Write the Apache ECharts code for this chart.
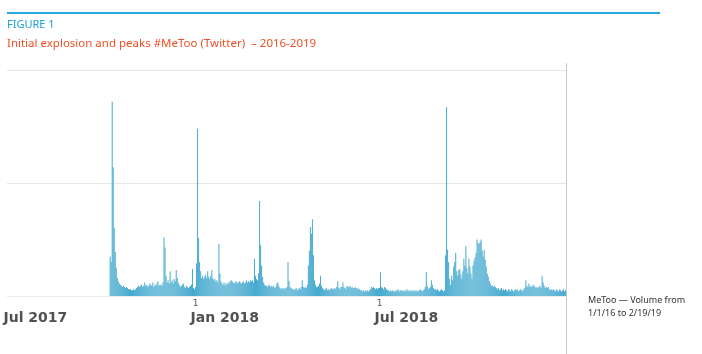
<!DOCTYPE html>
<html>
<head>
<meta charset="utf-8">
<script src="https://cdn.jsdelivr.net/npm/echarts@6/dist/echarts.min.js"></script>
<style>
html,body{margin:0;padding:0;background:#fff;}
#chart{width:702px;height:354px;}
</style>
</head>
<body>
<div id="chart"></div>
<script>
// Axis range (daily categories)
const axisStart = '2017-06-30';
const axisEnd = '2018-12-31';
// First day with data
const dataStart = '2017-10-09';
// Tick labels
const tickDates = ['2018-01-01', '2018-07-01'];
const tickDayLabels = ['1', '1'];
const monthDates = ['2017-07-01', '2018-01-01', '2018-07-01'];
const monthLabels = ['Jul 2017', 'Jan 2018', 'Jul 2018'];
// Daily #MeToo tweet volume (relative units; gridlines at 100 and 200)
const volume = [
  35, 30, 172, 114, 60, 39, 25, 16, 13, 11,
  10, 9, 8, 9, 8, 7, 8, 7, 6, 6,
  6, 5, 5, 6, 5, 6, 7, 8, 9, 8,
  9, 10, 8, 9, 12, 9, 10, 8, 9, 11,
  10, 9, 12, 8, 10, 9, 11, 13, 9, 10,
  10, 9, 12, 52, 43, 18, 12, 14, 11, 22,
  12, 14, 11, 15, 13, 23, 16, 12, 10, 8,
  9, 10, 11, 8, 7, 9, 8, 7, 8, 9,
  10, 24, 7, 6, 8, 29, 148, 51, 30, 22,
  16, 18, 15, 17, 19, 16, 22, 17, 15, 18,
  23, 16, 14, 15, 13, 14, 12, 46, 20, 13,
  11, 10, 12, 9, 11, 10, 12, 11, 13, 14,
  13, 12, 11, 12, 13, 11, 12, 13, 12, 11,
  12, 13, 11, 12, 14, 12, 13, 12, 14, 13,
  14, 12, 33, 18, 15, 14, 20, 84, 45, 27,
  17, 12, 10, 9, 9, 8, 10, 9, 8, 9,
  8, 9, 7, 8, 11, 12, 9, 7, 6, 7,
  6, 7, 6, 7, 8, 30, 13, 8, 7, 6,
  6, 5, 6, 7, 5, 6, 7, 6, 8, 14,
  8, 7, 8, 7, 10, 27, 40, 61, 55, 68,
  36, 14, 10, 8, 8, 9, 11, 18, 9, 7,
  6, 5, 6, 7, 5, 6, 5, 6, 7, 6,
  6, 7, 6, 8, 13, 7, 6, 8, 8, 12,
  8, 7, 6, 9, 8, 8, 9, 7, 8, 7,
  7, 8, 7, 6, 7, 6, 5, 5, 4, 5,
  4, 5, 4, 5, 4, 5, 6, 8, 7, 8,
  7, 6, 7, 6, 7, 7, 21, 8, 7, 6,
  8, 7, 6, 5, 5, 4, 5, 4, 5, 4,
  4, 5, 4, 6, 5, 4, 5, 5, 4, 5,
  4, 5, 6, 4, 5, 4, 5, 4, 5, 4,
  5, 4, 5, 4, 5, 6, 5, 4, 5, 6,
  8, 21, 9, 6, 7, 8, 14, 10, 7, 6,
  6, 5, 6, 5, 4, 5, 6, 5, 4, 5,
  36, 167, 41, 30, 15, 10, 18, 14, 26, 30,
  38, 22, 18, 23, 24, 19, 15, 22, 33, 27,
  44, 25, 20, 33, 26, 20, 15, 27, 31, 34,
  38, 50, 47, 46, 48, 50, 40, 35, 41, 32,
  26, 20, 17, 13, 11, 9, 9, 8, 9, 8,
  7, 6, 7, 5, 6, 7, 5, 6, 5, 6,
  5, 4, 6, 5, 4, 6, 5, 4, 5, 6,
  5, 6, 4, 5, 6, 5, 4, 6, 7, 14,
  9, 8, 11, 8, 9, 8, 9, 10, 8, 7,
  8, 7, 8, 9, 7, 18, 12, 9, 7, 8,
  7, 8, 6, 5, 6, 5, 6, 5, 4, 6,
  5, 4, 6, 5, 4, 5, 6, 4, 5
];

// Build daily categories
const DAY = 86400000;
const toDate = s => new Date(s + 'T00:00:00Z');
const fmt = d => d.toISOString().slice(0, 10);
const categories = [];
for (let t = toDate(axisStart).getTime(); t <= toDate(axisEnd).getTime(); t += DAY) {
  categories.push(fmt(new Date(t)));
}
const offset = categories.indexOf(dataStart);
const seriesData = categories.map((c, i) => {
  const k = i - offset;
  return (k >= 0 && k < volume.length) ? volume[k] : null;
});

const chart = echarts.init(document.getElementById('chart'), null, {renderer: 'canvas'});
chart.setOption({
  animation: false,
  backgroundColor: '#ffffff',
  title: [
    {
      text: 'FIGURE 1', left: 7, top: 18, padding: 0,
      textStyle: {fontFamily: 'Noto Sans', fontSize: 11, fontWeight: 'normal', color: '#1ba1db', lineHeight: 14}
    },
    {
      text: 'Initial explosion and peaks #MeToo (Twitter)  \u2013 2016-2019', left: 7, top: 36, padding: 0,
      textStyle: {fontFamily: 'Noto Sans', fontSize: 11.5, fontWeight: 'normal', color: '#ef4f25', lineHeight: 16}
    },
    {
      text: 'MeToo \u2014 Volume from\n1/1/16 to 2/19/19', left: 588, top: 294, padding: 0,
      textStyle: {fontFamily: 'Noto Sans', fontSize: 9, fontWeight: 'normal', color: '#333', lineHeight: 13}
    }
  ],
  graphic: [
    {type: 'line', shape: {x1: 7, y1: 13, x2: 660, y2: 13}, style: {stroke: '#2aa8dc', lineWidth: 2}, silent: true},
    {type: 'line', shape: {x1: 566.5, y1: 63, x2: 566.5, y2: 354}, style: {stroke: '#c8c8c8', lineWidth: 1}, silent: true}
  ],
  grid: {left: 7, right: 136, top: 70, bottom: 58, containLabel: false},
  xAxis: [
    {
      type: 'category', data: categories, position: 'bottom', boundaryGap: true,
      axisLine: {show: true, lineStyle: {color: '#ececec', width: 1}},
      axisTick: {show: false},
      axisLabel: {
        show: true, margin: 3,
        interval: (i, v) => tickDates.indexOf(v) >= 0,
        formatter: v => { const k = tickDates.indexOf(v); return k >= 0 ? tickDayLabels[k] : ''; },
        fontFamily: 'DejaVu Sans', fontSize: 9, color: '#555'
      },
      splitLine: {show: false}
    },
    {
      type: 'category', data: categories, position: 'bottom', offset: 0, gridIndex: 0, boundaryGap: true,
      axisLine: {show: false}, axisTick: {show: false},
      axisLabel: {
        show: true, margin: 15, align: 'left', padding: [0, 0, 0, -5],
        interval: (i, v) => monthDates.indexOf(v) >= 0,
        formatter: v => { const k = monthDates.indexOf(v); return k >= 0 ? monthLabels[k] : ''; },
        fontFamily: 'DejaVu Sans', fontWeight: 'bold', fontSize: 14, color: '#505050'
      },
      splitLine: {show: false}
    }
  ],
  yAxis: {
    type: 'value', min: 0, max: 200, interval: 100,
    axisLine: {show: false}, axisTick: {show: false}, axisLabel: {show: false},
    splitLine: {show: true, lineStyle: {color: '#e6e6e6', width: 1}}
  },
  series: [{
    type: 'bar', xAxisIndex: 0, data: seriesData,
    barCategoryGap: '10%',
    itemStyle: {color: '#46aacf'}
  }]
});
</script>
</body>
</html>
